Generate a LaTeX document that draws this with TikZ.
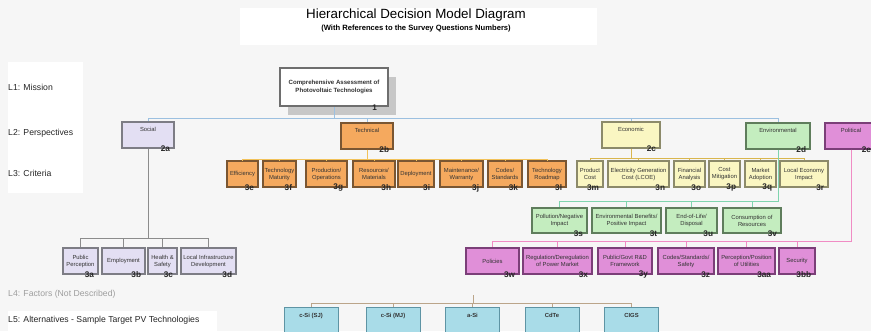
\documentclass[tikz,border=0pt]{standalone}
\usepackage{fontspec}
\setmainfont{Liberation Sans}
\usetikzlibrary{positioning}
\usetikzlibrary{shadows}
\definecolor{bggray}{HTML}{F6F6F6}
\definecolor{misline}{HTML}{6E6E6E}
\definecolor{socfill}{HTML}{E3DFF3}
\definecolor{socline}{HTML}{7D7D85}
\definecolor{techfill}{HTML}{F5A95E}
\definecolor{techline}{HTML}{7A5632}
\definecolor{econfill}{HTML}{FAF6C2}
\definecolor{econline}{HTML}{8C8A6A}
\definecolor{envfill}{HTML}{C4EDBF}
\definecolor{envline}{HTML}{5F7D5C}
\definecolor{polfill}{HTML}{E08FD8}
\definecolor{polline}{HTML}{7B3F78}
\definecolor{altfill}{HTML}{A9DCE8}
\definecolor{altline}{HTML}{5E94A4}
\definecolor{blueway}{HTML}{9CC0E0}
\definecolor{socway}{HTML}{8C8C8C}
\definecolor{techway}{HTML}{F2C25A}
\definecolor{econway}{HTML}{D9B64E}
\definecolor{envway}{HTML}{7FD4AE}
\definecolor{polway}{HTML}{F08CC4}
\definecolor{altway}{HTML}{BBA58A}
\tikzset{
    sz/.style 2 args = {minimum width=#1*0.3mm, minimum height=#2*0.3mm},
    box/.style = {rectangle, line width=1.6pt, align=center, inner sep=0.5pt, font=\fontsize{5}{6}\selectfont, text=black!80},
    persp/.style = {anchor=north, text height=1.5mm, text depth=3.3mm, inner ysep=1.5mm},
    socbox/.style = {box, fill=socfill, draw=socline},
    techbox/.style = {box, fill=techfill, draw=techline},
    econbox/.style = {box, fill=econfill, draw=econline},
    envbox/.style = {box, fill=envfill, draw=envline},
    polbox/.style = {box, fill=polfill, draw=polline},
    mission/.style = {box, fill=white, draw=misline, line width=2.2pt, font=\bfseries\fontsize{5.2}{6.2}\selectfont,
        drop shadow={shadow xshift=2.4mm, shadow yshift=-2.7mm, fill=black!22, opacity=1}},
    altbox/.style = {box, fill=altfill, draw=altline, line width=0.8pt, anchor=north, font=\bfseries\fontsize{5}{6}\selectfont,
        text height=1.3mm, text depth=7mm, inner ysep=1.6mm},
    qnum/.style = {anchor=east, xshift=-1.4mm, inner sep=0pt, font=\bfseries\fontsize{7}{8}\selectfont, text=black!85},
    lvl/.style = {anchor=west, inner sep=0pt, font=\fontsize{7.4}{9}\selectfont, text=black!85},
    bus/.style = {line width=0.8pt, to path={-- ++(0,#1) -| (\tikztotarget)}},
    edgeblue/.style = {bus=11, color=blueway},
    edgesoc/.style = {bus=90, color=socway},
    edgetech/.style = {bus=10, color=techway},
    edgeecon/.style = {bus=10, color=econway},
    edgeenv/.style = {bus=52, color=envway},
    edgepol/.style = {bus=92, color=polway},
    edgealt/.style = {bus=8, color=altway}
}
\begin{document}
\begin{tikzpicture}[x=0.3mm, y=-0.3mm]
\useasboundingbox (0,0) rectangle (871,331);
%
\fill[bggray] (0,0) rectangle (871,331);
\fill[white] (240,8) rectangle (597,45);
\fill[white] (8,62) rectangle (83,193);
\fill[white] (8,311) rectangle (217,331);
%
\node[font=\fontsize{11.4}{13}\selectfont] at (416,15) (title) {Hierarchical Decision Model Diagram};
\node[font=\bfseries\fontsize{6.5}{8}\selectfont] at (416,29) (subtitle) {(With References to the Survey Questions Numbers)};
%
\node[lvl] at (8,87) (l1) {L1: Mission};
\node[lvl] at (8,133) (l2) {L2: Perspectives};
\node[lvl] at (8,173) (l3) {L3: Criteria};
\node[lvl, text=black!38] at (8,294) (l4) {L4: Factors (Not Described)};
\node[lvl] at (8,320) (l5) {L5: Alternatives - Sample Target PV Technologies};
%
\node[mission, sz={108}{38}, label={[qnum, xshift=-2.2mm]south east:1}] at (334,87) (miss) {Comprehensive Assessment of\\Photovoltaic Technologies};
%
\node[socbox, persp, sz={52}{26}, label={[qnum]south east:2a}] at (148,121) (soc) {Social};
\node[techbox, persp, sz={52}{26}, label={[qnum]south east:2b}] at (367,122) (tech) {Technical};
\node[econbox, persp, sz={58}{26}, label={[qnum]south east:2c}] at (631,121) (econ) {Economic};
\node[envbox, persp, sz={64}{26}, label={[qnum]south east:2d}] at (778,122) (env) {Environmental};
\node[polbox, persp, sz={52}{26}, label={[qnum, xshift=-0.6mm]south east:2e}] at (851,122) (pol) {Political};
%
\node[techbox, sz={31}{26}, label={[qnum]south east:3e}] at (242.5,174) (t1) {Efficiency};
\node[techbox, sz={33}{26}, label={[qnum]south east:3f}] at (279.5,174) (t2) {Technology\\Maturity};
\node[techbox, sz={41}{26}, label={[qnum]south east:3g}] at (326.5,174) (t3) {Production/\\Operations};
\node[techbox, sz={42}{26}, label={[qnum]south east:3h}] at (374,174) (t4) {Resources/\\Materials};
\node[techbox, sz={36}{26}, label={[qnum]south east:3i}] at (416,174) (t5) {Deployment};
\node[techbox, sz={43}{26}, label={[qnum]south east:3j}] at (461.5,174) (t6) {Maintenance/\\Warranty};
\node[techbox, sz={34}{26}, label={[qnum]south east:3k}] at (505,174) (t7) {Codes/\\Standards};
\node[techbox, sz={38}{26}, label={[qnum]south east:3l}] at (547,174) (t8) {Technology\\Roadmap};
%
\node[econbox, sz={26}{26}, label={[qnum]south east:3m}] at (590,174) (e1) {Product\\Cost};
\node[econbox, sz={61}{26}, label={[qnum]south east:3n}] at (638.5,174) (e2) {Electricity Generation\\Cost (LCOE)};
\node[econbox, sz={31}{26}, label={[qnum]south east:3o}] at (689.5,174) (e3) {Financial\\Analysis};
\node[econbox, sz={31}{26}, label={[qnum]south east:3p}] at (724.5,174) (e4) {Cost\\Mitigation};
\node[econbox, sz={31}{26}, label={[qnum]south east:3q}] at (760.5,174) (e5) {Market\\Adoption};
\node[econbox, sz={48}{26}, label={[qnum]south east:3r}] at (804,174) (e6) {Local Economy\\Impact};
%
\node[envbox, sz={55}{25}, label={[qnum]south east:3s}] at (559.5,220.5) (v1) {Pollution/Negative\\Impact};
\node[envbox, sz={69}{25}, label={[qnum]south east:3t}] at (626.5,220.5) (v2) {Environmental Benefits/\\Positive Impact};
\node[envbox, sz={51}{25}, label={[qnum]south east:3u}] at (691.5,220.5) (v3) {End-of-Life/\\Disposal};
\node[envbox, sz={58}{25}, label={[qnum]south east:3v}] at (752,220.5) (v4) {Consumption of\\Resources};
%
\node[polbox, sz={53}{26}, label={[qnum]south east:3w}] at (492.5,261) (p1) {Policies};
\node[polbox, sz={69}{26}, label={[qnum]south east:3x}] at (557.5,261) (p2) {Regulation/Deregulation\\of Power Market};
\node[polbox, sz={54}{26}, label={[qnum]south east:3y}] at (625,261) (p3) {Public/Govt R\&D\\Framework};
\node[polbox, sz={56}{26}, label={[qnum]south east:3z}] at (686,261) (p4) {Codes/Standards/\\Safety};
\node[polbox, sz={57}{26}, label={[qnum]south east:3aa}] at (746.5,261) (p5) {Perception/Position\\of Utilities};
\node[polbox, sz={36}{26}, label={[qnum]south east:3bb}] at (797,261) (p6) {Security};
%
\node[socbox, sz={35}{26}, label={[qnum]south east:3a}] at (80.5,261) (s1) {Public\\Perception};
\node[socbox, sz={43}{26}, label={[qnum]south east:3b}] at (123.5,261) (s2) {Employment};
\node[socbox, sz={29}{26}, label={[qnum]south east:3c}] at (162.5,261) (s3) {Health \&\\Safety};
\node[socbox, sz={55}{26}, label={[qnum]south east:3d}] at (208.5,261) (s4) {Local Infrastructure\\Development};
%
\coordinate (fac) at (473,295);
\node[altbox, sz={54}{40}] at (311,307) (a1) {c-Si (SJ)};
\node[altbox, sz={54}{40}] at (393,307) (a2) {c-Si (MJ)};
\node[altbox, sz={54}{40}] at (472.5,307) (a3) {a-Si};
\node[altbox, sz={54}{40}] at (552,307) (a4) {CdTe};
\node[altbox, sz={54}{40}] at (631.5,307) (a5) {CIGS};
%
\draw[edgeblue] (miss.south) edge (soc.north) edge (tech.north) edge (econ.north) edge (env.north);
\draw[edgesoc] (soc.south) edge (s1.north) edge (s2.north) edge (s3.north) edge (s4.north);
\draw[edgetech] (tech.south) edge (t1.north) edge (t2.north) edge (t3.north) edge (t4.north)
    edge (t5.north) edge (t6.north) edge (t7.north) edge (t8.north);
\draw[edgeecon] (econ.south) edge (e1.north) edge (e2.north) edge (e3.north) edge (e4.north)
    edge (e5.north) edge (e6.north);
\draw[edgeenv] (env.south) edge (v1.north) edge (v2.north) edge (v3.north) edge (v4.north);
\draw[edgepol] (pol.south) edge (p1.north) edge (p2.north) edge (p3.north) edge (p4.north)
    edge (p5.north) edge (p6.north);
\draw[edgealt] (fac) edge (a1.north) edge (a2.north) edge (a3.north) edge (a4.north) edge (a5.north);

\end{tikzpicture}
\end{document}
